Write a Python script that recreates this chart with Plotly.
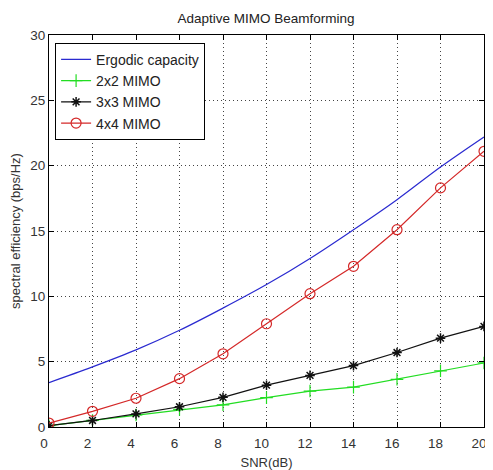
"""Adaptive MIMO beamforming spectral efficiency plot."""
import plotly.graph_objects as go

snr_db = [0, 2, 4, 6, 8, 10, 12, 14, 16, 18, 20]
ergodic = [3.4, 4.6, 5.9, 7.4, 9.1, 10.9, 12.9, 15.1, 17.4, 19.9, 22.2]
mimo_2x2 = [0.1, 0.5, 0.92, 1.35, 1.7, 2.25, 2.75, 3.05, 3.65, 4.3, 4.9]
mimo_3x3 = [0.1, 0.5, 1.0, 1.55, 2.27, 3.2, 3.95, 4.7, 5.7, 6.8, 7.7]
mimo_4x4 = [0.3, 1.2, 2.2, 3.7, 5.6, 7.9, 10.2, 12.3, 15.1, 18.3, 21.1]

FONT = "Liberation Sans, Arial, sans-serif"
# page body has an 8px margin, so the figure is shrunk to fit the window
W = 485
H = 462

fig = go.Figure()
fig.add_trace(go.Scatter(x=snr_db, y=ergodic, name="Ergodic capacity", mode="lines",
                         line=dict(color="#2a2ad0", width=1.2, shape="spline")))
fig.add_trace(go.Scatter(x=snr_db, y=mimo_2x2, name="2x2 MIMO", mode="lines+markers",
                         line=dict(color="#22dd22", width=1.2),
                         marker=dict(symbol="cross-thin", size=9, line=dict(color="#22dd22", width=1.2))))
fig.add_trace(go.Scatter(x=snr_db, y=mimo_3x3, name="3x3 MIMO", mode="lines+markers",
                         line=dict(color="#111111", width=1.2),
                         marker=dict(symbol="asterisk-open", size=8, line=dict(color="#111111", width=1.5))))
fig.add_trace(go.Scatter(x=snr_db, y=mimo_4x4, name="4x4 MIMO", mode="lines+markers",
                         line=dict(color="#d42828", width=1.2),
                         marker=dict(symbol="circle-open", size=10, color="#d42828", line=dict(width=1.2))))

axis_style = dict(
    showline=True, linecolor="black", linewidth=1, mirror="ticks",
    ticks="inside", ticklen=5, tickcolor="black",
    showgrid=True, gridcolor="#444444", griddash="1px,3px", gridwidth=1,
    zeroline=False, automargin=False,
    tickfont=dict(size=13.5, color="#333333", family=FONT),
)

fig.update_xaxes(axis_style, range=[0, 20], tickvals=snr_db, ticklabelshift=-5, ticklabelstandoff=4,
                 title=dict(text="SNR(dB)", font=dict(size=13, color="#333333", family=FONT), standoff=7))
fig.update_yaxes(axis_style, range=[0, 30], tickvals=[0, 5, 10, 15, 20, 25, 30],
                 title=dict(text="spectral efficiency (bps/Hz)", font=dict(size=13, color="#333333", family=FONT),
                            standoff=6))

fig.update_layout(
    width=W, height=H,
    margin=dict(l=41, r=9, t=27, b=43),
    paper_bgcolor="white", plot_bgcolor="white",
    font=dict(family=FONT, color="#333333"),
    title=dict(text="Adaptive MIMO Beamforming", x=0.532, xanchor="center", y=0.978, yanchor="middle",
               font=dict(size=13.5, color="#222222", family=FONT)),
    showlegend=True,
    legend=dict(x=0.014, y=0.98, xanchor="left", yanchor="top",
                bgcolor="white", bordercolor="black", borderwidth=1,
                font=dict(size=14, color="#222222", family=FONT),
                itemwidth=30, tracegroupgap=0),
)

fig.write_html("out.html")
